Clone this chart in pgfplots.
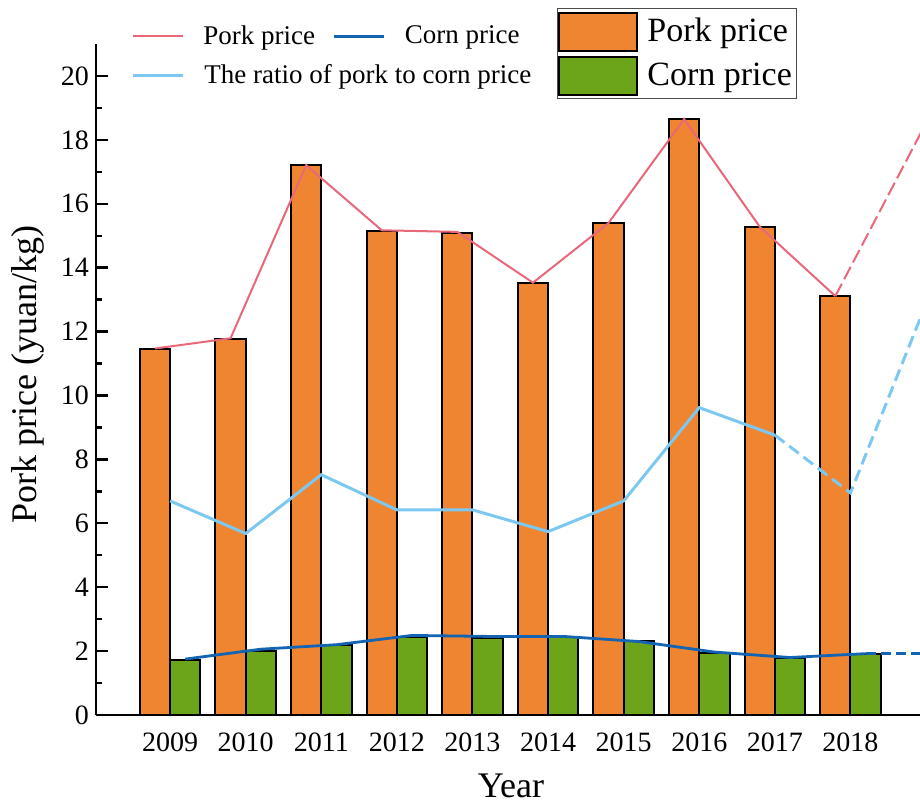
\documentclass[border=0pt]{standalone}
\usepackage{fontspec}
\setmainfont{Liberation Serif}
\usepackage{pgfplots}
\usepackage{pgfplotstable}
\pgfplotsset{compat=1.18}
\definecolor{porkbar}{RGB}{239,133,48}
\definecolor{cornbar}{RGB}{108,165,25}
\definecolor{porkline}{RGB}{232,104,122}
\definecolor{cornline}{RGB}{20,100,180}
\definecolor{ratioline}{RGB}{125,200,240}

\pgfplotstableread{
year pork corn
2009 11.45 1.72
2010 11.76 2.01
2011 17.21 2.19
2012 15.16 2.43
2013 15.10 2.40
2014 13.53 2.43
2015 15.40 2.32
2016 18.65 1.95
2017 15.28 1.77
2018 13.11 1.91
}\bardata

\begin{document}
\begin{tikzpicture}
\begin{axis}[
  at={(0pt,0pt)}, anchor=south west,
  scale only axis, width=412pt, height=335.5pt,
  xmin=2008.02, xmax=2018.92, ymin=0, ymax=21,
  axis x line=bottom, axis y line=left,
  axis line style={-, line width=1.2pt, black},
  xtick={2009,2010,...,2018},
  xticklabel style={/pgf/number format/1000 sep={}, yshift=-5.5pt},
  x tick style={draw=none},
  ytick={0,2,...,20}, minor y tick num=1,
  tick align=inside,
  y tick style={line width=1.2pt, black},
  major tick length=6pt, minor tick length=3pt,
  tick label style={font=\fontsize{14}{16}\selectfont},
  /pgf/number format/assume math mode=true,
  xlabel={Year}, ylabel={Pork price (yuan/kg)},
  label style={font=\fontsize{18}{21}\selectfont},
  xlabel style={at={(axis description cs:0.5036,-0.106)}, anchor=center},
  ylabel style={at={(axis description cs:-0.0825,0.507)}, anchor=center},
  legend style={at={(axis description cs:0.5595,1.0537)}, anchor=north west,
    draw=black!70, line width=0.6pt, inner xsep=0.4pt, inner ysep=1.5pt,
    row sep=2pt, nodes={inner xsep=2pt, inner ysep=1pt},
    /tikz/every odd column/.append style={column sep=2.5pt},
    /tikz/every even column/.append style={column sep=1.5pt},
    font=\fontsize{17}{20}\selectfont},
  legend cell align=left,
  legend image code/.code={\draw[#1, line width=1pt] (0pt,-9.5pt) rectangle (39pt,9.5pt);},
]
\addplot[ybar, bar width=0.4, bar shift=0pt, fill=porkbar, draw=black, line width=1pt]
  table[x expr=\thisrow{year}-0.2, y=pork]{\bardata};
\addlegendentry{Pork price}
\addplot[ybar, bar width=0.4, bar shift=0pt, fill=cornbar, draw=black, line width=1pt]
  table[x expr=\thisrow{year}+0.2, y=corn]{\bardata};
\addlegendentry{Corn price}
\end{axis}

\begin{axis}[
  at={(0pt,0pt)}, anchor=south west,
  scale only axis, width=412pt, height=335.5pt,
  xmin=2008.02, xmax=2018.92, ymin=0, ymax=21,
  hide axis, clip=true,
  legend style={at={(axis description cs:0.0424,1.034)}, anchor=north west,
    draw=none, fill=none, inner sep=0pt,
    nodes={inner xsep=0pt, inner ysep=2pt},
    row sep=4.5pt,
    /tikz/every odd column/.append style={column sep=9.5pt},
    /tikz/every even column/.append style={column sep=9pt},
    /tikz/column 3/.append style={column sep=5.5pt},
    font=\fontsize{13.5}{16}\selectfont},
  legend columns=2,
  legend cell align=left,
  legend image code/.code={\draw[#1] (0pt,0pt) -- (25pt,0pt);},
]
\addplot[porkline, line width=1pt] coordinates {
  (2008.8,11.47) (2009.8,11.79) (2010.8,17.21) (2011.8,15.17) (2012.8,15.12)
  (2013.8,13.53) (2014.8,15.40) (2015.8,18.65) (2016.8,15.28) (2017.8,13.11)};
\addlegendentry{Pork price}
\addplot[cornline, line width=1.4pt] coordinates {
  (2009.2,1.75) (2010.2,2.06) (2011.2,2.20) (2012.2,2.49) (2013.2,2.46)
  (2014.2,2.46) (2015.2,2.30) (2016.2,1.97) (2017.2,1.80) (2018.2,1.92)};
\addlegendentry{Corn price}
\addplot[ratioline, line width=1.5pt] coordinates {
  (2009,6.70) (2010,5.68) (2011,7.52) (2012,6.42) (2013,6.42)
  (2014,5.74) (2015,6.70) (2016,9.62) (2017,8.76)};
\addlegendentry{\makebox[0pt][l]{The ratio of pork to corn price}}
\addplot[porkline, line width=1pt, dash pattern=on 7pt off 2.5pt, forget plot]
  coordinates {(2017.8,13.11) (2019.0,18.53)};
\addplot[cornline, line width=1.4pt, dash pattern=on 5pt off 2.5pt, forget plot]
  coordinates {(2018.2,1.92) (2019.2,1.92)};
\addplot[ratioline, line width=1.5pt, dash pattern=on 6pt off 3pt, forget plot]
  coordinates {(2017,8.76) (2018,6.95) (2019,12.87)};
\end{axis}
\pgfresetboundingbox
\path (-48pt,-48pt) rectangle (412pt,357.5pt);
\end{tikzpicture}
\end{document}
